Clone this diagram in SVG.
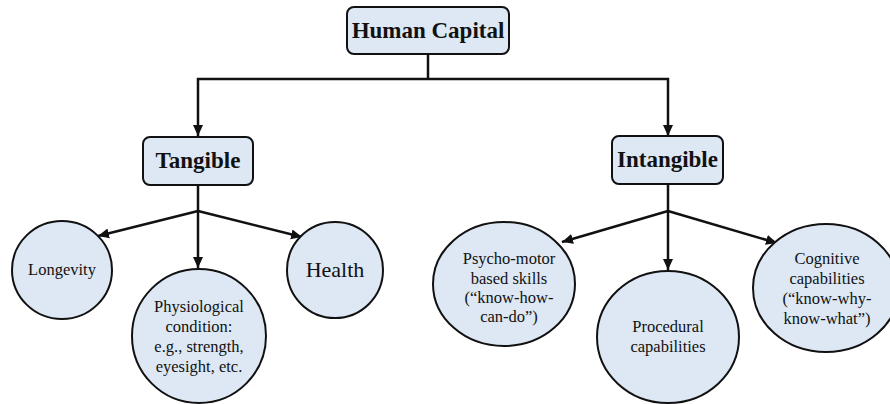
<svg xmlns="http://www.w3.org/2000/svg" width="890" height="404" viewBox="0 0 890 404">
  <style>
    .box { fill: #dde8f4; stroke: #111; stroke-width: 2; }
    .bubble { fill: #dde8f4; stroke: #111; stroke-width: 2; }
    text { font-family: "Liberation Serif", "DejaVu Serif", "Times New Roman", serif; fill: #111; text-anchor: middle; }
    .head { font-weight: bold; font-size: 23px; }
    .label { font-size: 16.5px; }
    .big { font-size: 22px; }
    .link { fill: none; stroke: #111; stroke-width: 2.5; }
    .arrow { marker-end: url(#tip); }
  </style>
  <defs>
    <marker id="tip" markerUnits="userSpaceOnUse" markerWidth="12" markerHeight="12" viewBox="0 0 12 12" refX="11" refY="6" orient="auto">
      <path d="M0,1 L11,6 L0,11 z" fill="#111"/>
    </marker>
  </defs>

  <!-- connectors -->
  <g id="connectors">
    <path class="link" d="M428,54 V79"/>
    <path class="link arrow" d="M428,79 H198 V136"/>
    <path class="link arrow" d="M428,79 H668 V136"/>
    <path class="link" d="M198,185 V211"/>
    <path class="link arrow" d="M198,211 L98,236"/>
    <path class="link arrow" d="M198,211 V268"/>
    <path class="link arrow" d="M198,211 L302,237"/>
    <path class="link" d="M668,184 V211"/>
    <path class="link arrow" d="M668,211 L562,242"/>
    <path class="link arrow" d="M668,211 V270"/>
    <path class="link arrow" d="M668,211 L777,243"/>
  </g>

  <!-- top level -->
  <g id="human-capital">
    <rect class="box" x="347" y="7" width="162" height="47" rx="7"/>
    <text class="head" x="428" y="38" font-family="Liberation Serif, DejaVu Serif, serif">Human Capital</text>
  </g>

  <!-- categories -->
  <g id="tangible">
    <rect class="box" x="143" y="137" width="110" height="48" rx="7"/>
    <text class="head" x="198" y="168">Tangible</text>
  </g>
  <g id="intangible">
    <rect class="box" x="612" y="136" width="111" height="48" rx="7"/>
    <text class="head" x="667.5" y="167">Intangible</text>
  </g>

  <!-- tangible items -->
  <g id="longevity">
    <ellipse class="bubble" cx="62" cy="270" rx="50" ry="49"/>
    <text class="label" x="62" y="275">Longevity</text>
  </g>
  <g id="physiological">
    <ellipse class="bubble" cx="199" cy="336" rx="67" ry="67"/>
    <text class="label" x="199" y="312">Physiological</text>
    <text class="label" x="199" y="332">condition:</text>
    <text class="label" x="199" y="352">e.g., strength,</text>
    <text class="label" x="199" y="372">eyesight, etc.</text>
  </g>
  <g id="health">
    <ellipse class="bubble" cx="335" cy="270" rx="48" ry="48"/>
    <text class="label big" x="335" y="277">Health</text>
  </g>

  <!-- intangible items -->
  <g id="psycho-motor">
    <ellipse class="bubble" cx="504" cy="284" rx="71" ry="62"/>
    <text class="label" x="509" y="264">Psycho-motor</text>
    <text class="label" x="509" y="284">based skills</text>
    <text class="label" x="509" y="303">(“know-how-</text>
    <text class="label" x="509" y="322">can-do”)</text>
  </g>
  <g id="procedural">
    <ellipse class="bubble" cx="668" cy="337" rx="71" ry="66"/>
    <text class="label" x="668" y="332">Procedural</text>
    <text class="label" x="668" y="352">capabilities</text>
  </g>
  <g id="cognitive">
    <ellipse class="bubble" cx="826" cy="288" rx="73" ry="64"/>
    <text class="label" x="827" y="264">Cognitive</text>
    <text class="label" x="827" y="284">capabilities</text>
    <text class="label" x="827" y="304">(“know-why-</text>
    <text class="label" x="827" y="324">know-what”)</text>
  </g>
</svg>
